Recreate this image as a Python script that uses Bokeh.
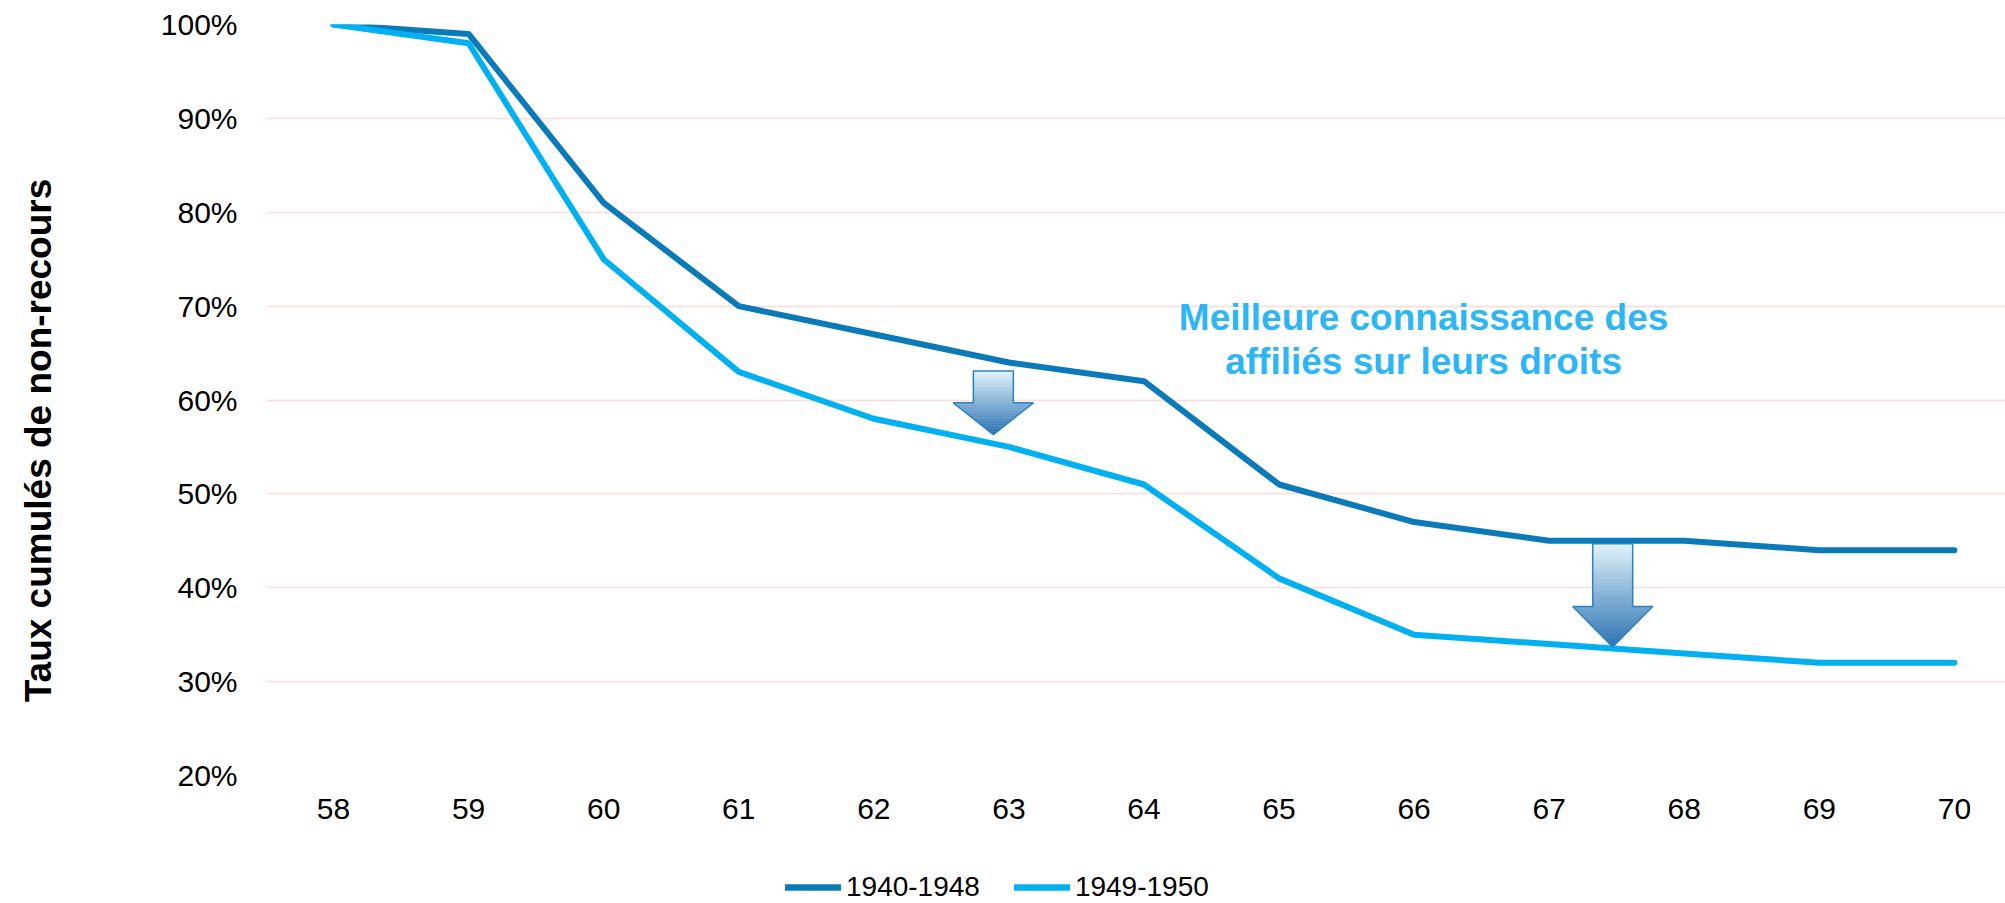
import math
from bokeh.plotting import figure
from bokeh.layouts import row, column
from bokeh.models import Legend, LegendItem, Label, PrintfTickFormatter, FixedTicker, Range1d
from bokeh.embed import file_html
from bokeh.resources import INLINE

# ---- data ----
ages = [58, 59, 60, 61, 62, 63, 64, 65, 66, 67, 68, 69, 70]
gen_1940_1948 = [100, 99, 81, 70, 67, 64, 62, 51, 47, 45, 45, 44, 44]
gen_1949_1950 = [100, 98, 75, 63, 58, 55, 51, 41, 35, 34, 33, 32, 32]
series_names = ["1940-1948", "1949-1950"]
y_ticks = [20, 30, 40, 50, 60, 70, 80, 90, 100]
y_title = "Taux cumulés de non-recours"
note_lines = ["Meilleure connaissance des", "affiliés sur leurs droits"]

# arrows: (center x, top y, head-start y, tip y)
arrow_specs = [(62.885, 63.1, 59.7, 56.3), (67.47, 44.7, 38.0, 33.7)]

DARK = "#0B7AB8"
LIGHT = "#00B0F0"
FONT = "Liberation Sans"

TITLE_W = 80
MAIN_H = 870

# ---- left strip holding the vertical axis title ----
pt = figure(width=TITLE_W, height=903, output_backend="svg", toolbar_location=None,
            x_range=Range1d(0, TITLE_W), y_range=Range1d(903, 0),
            x_axis_location=None, y_axis_location=None,
            min_border_left=0, min_border_right=0, min_border_top=0, min_border_bottom=0)
pt.outline_line_color = None
pt.grid.visible = False
pt.add_layout(Label(x=38, y=440, text=y_title, angle=math.pi / 2,
                    text_align="center", text_baseline="middle",
                    text_font=FONT, text_font_size="37px", text_font_style="bold",
                    text_color="black"))

# ---- main chart ----
p = figure(width=2005 - TITLE_W, height=MAIN_H, output_backend="svg", toolbar_location=None,
           x_range=Range1d(57.504, 70.378), y_range=Range1d(20, 100),
           min_border_left=266 - TITLE_W, min_border_top=24, min_border_right=0,
           min_border_bottom=MAIN_H - 775)
p.outline_line_color = None
p.background_fill_color = "white"

r1 = p.line(ages, gen_1940_1948, line_color=DARK, line_width=6, line_join="round", line_cap="round")
r2 = p.line(ages, gen_1949_1950, line_color=LIGHT, line_width=6, line_join="round", line_cap="round")

p.xaxis.ticker = FixedTicker(ticks=ages)
p.yaxis.ticker = FixedTicker(ticks=y_ticks)
p.yaxis.formatter = PrintfTickFormatter(format="%d%%")
for ax in (p.xaxis[0], p.yaxis[0]):
    ax.axis_line_color = None
    ax.major_tick_line_color = None
    ax.minor_tick_line_color = None
    ax.major_tick_out = 0
    ax.major_tick_in = 0
    ax.major_label_text_font = FONT
    ax.major_label_text_font_size = "30px"
    ax.major_label_text_color = "black"
p.yaxis.major_label_standoff = 29
p.xaxis.major_label_standoff = 23
p.xgrid.grid_line_color = None
p.ygrid.grid_line_color = "#FADCDC"
p.ygrid.grid_line_width = 1.5

for txt, yy in zip(note_lines, [68.8, 64.1]):
    p.add_layout(Label(x=66.07, y=yy, text=txt, text_align="center", text_baseline="alphabetic",
                       text_font=FONT, text_font_size="37px", text_font_style="bold",
                       text_color="#2DB6F5"))

# gradient block arrows
SHAFT_HW = 0.148
HEAD_HW = 0.296
top_rgb = (228, 244, 252)
bot_rgb = (40, 112, 176)

def mix(t):
    return "#%02x%02x%02x" % tuple(int(round(a + (b - a) * t)) for a, b in zip(top_rgb, bot_rgb))

for cx, yt, yh, ytip in arrow_specs:
    xs, ys, cols = [], [], []
    total = yt - ytip
    n1, n2 = 20, 20
    for i in range(n1):
        ya = yt - (yt - yh) * i / n1
        yb = yt - (yt - yh) * (i + 1) / n1
        xs.append([cx - SHAFT_HW, cx + SHAFT_HW, cx + SHAFT_HW, cx - SHAFT_HW])
        ys.append([ya, ya, yb, yb])
        cols.append(mix(((yt - ya) + (yt - yb)) / 2 / total))
    for i in range(n2):
        ya = yh - (yh - ytip) * i / n2
        yb = yh - (yh - ytip) * (i + 1) / n2
        wa = HEAD_HW * (ya - ytip) / (yh - ytip)
        wb = HEAD_HW * (yb - ytip) / (yh - ytip)
        xs.append([cx - wa, cx + wa, cx + wb, cx - wb])
        ys.append([ya, ya, yb, yb])
        cols.append(mix(((yt - ya) + (yt - yb)) / 2 / total))
    p.patches(xs, ys, fill_color=cols, line_color=cols, line_width=0.6)
    p.patch([cx - SHAFT_HW, cx + SHAFT_HW, cx + SHAFT_HW, cx + HEAD_HW, cx, cx - HEAD_HW, cx - SHAFT_HW],
            [yt, yt, yh, yh, ytip, yh, yh],
            fill_alpha=0, line_color="#2B84C2", line_width=1.5)

# ---- legend strip (series drawn here fall outside its 0..1 ranges, only the legend shows) ----
pl = figure(width=2005 - TITLE_W, height=903 - MAIN_H, output_backend="svg", toolbar_location=None,
            x_range=Range1d(0, 1), y_range=Range1d(0, 1),
            x_axis_location=None, y_axis_location=None,
            min_border_left=266 - TITLE_W, min_border_right=0, min_border_top=0, min_border_bottom=0)
pl.outline_line_color = None
pl.grid.visible = False
l1 = pl.line(ages, gen_1940_1948, line_color=DARK, line_width=6.5, line_cap="round")
l2 = pl.line(ages, gen_1949_1950, line_color=LIGHT, line_width=6.5, line_cap="round")
legend = Legend(items=[LegendItem(label=series_names[0], renderers=[l1]),
                       LegendItem(label=series_names[1], renderers=[l2])],
                orientation="horizontal", location=(785 - 266, 0),
                padding=0, margin=0, spacing=34, label_standoff=5,
                glyph_width=56, glyph_height=28, label_height=28,
                label_text_font=FONT, label_text_font_size="28px", label_text_color="black",
                border_line_color=None, background_fill_alpha=0)
pl.add_layout(legend, "center")

layout = row(pt, column(p, pl, spacing=0), spacing=0)
open("out.html", "w").write(file_html(layout, INLINE))
